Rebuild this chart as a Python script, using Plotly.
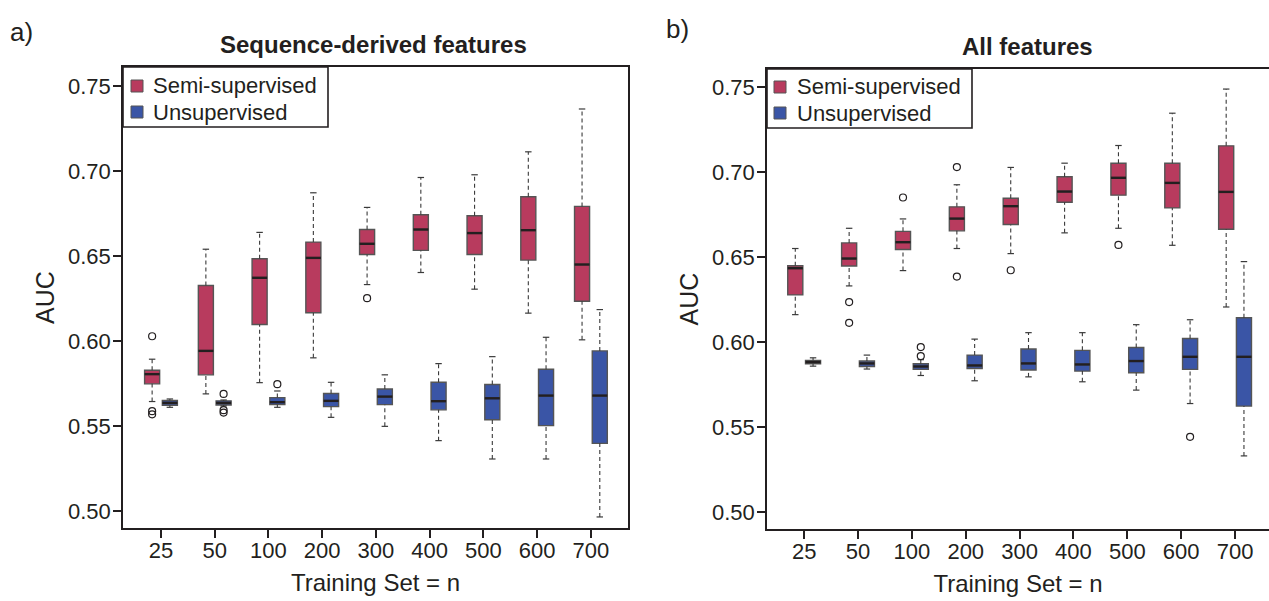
import plotly.graph_objects as go

W, H = 1269, 601

categories = ["25", "50", "100", "200", "300", "400", "500", "600", "700"]
series_names = ["Semi-supervised", "Unsupervised"]

# ---------- Panel a: Sequence-derived features ----------
seq_semi_lo  = [0.5644, 0.5689, 0.5755, 0.5901, 0.6332, 0.6403, 0.6305, 0.6164, 0.6007]
seq_semi_q1  = [0.5748, 0.5801, 0.6097, 0.6166, 0.6509, 0.6533, 0.6509, 0.6476, 0.6234]
seq_semi_med = [0.5805, 0.5942, 0.6372, 0.6489, 0.6572, 0.6656, 0.6635, 0.6652, 0.6450]
seq_semi_q3  = [0.5828, 0.6327, 0.6484, 0.6582, 0.6656, 0.6743, 0.6737, 0.6849, 0.6792]
seq_semi_hi  = [0.5893, 0.6540, 0.6639, 0.6872, 0.6786, 0.6962, 0.6978, 0.7113, 0.7365]
seq_semi_out_cat = ["25", "25", "25", "300"]
seq_semi_out_val = [0.6028, 0.5587, 0.5569, 0.6252]

seq_unsup_lo  = [0.5610, 0.5618, 0.5610, 0.5551, 0.5498, 0.5414, 0.5306, 0.5306, 0.4965]
seq_unsup_q1  = [0.5622, 0.5624, 0.5626, 0.5614, 0.5626, 0.5595, 0.5537, 0.5502, 0.5398]
seq_unsup_med = [0.5636, 0.5636, 0.5640, 0.5648, 0.5673, 0.5646, 0.5663, 0.5679, 0.5679]
seq_unsup_q3  = [0.5650, 0.5648, 0.5667, 0.5691, 0.5718, 0.5757, 0.5744, 0.5834, 0.5942]
seq_unsup_hi  = [0.5659, 0.5653, 0.5706, 0.5757, 0.5801, 0.5867, 0.5908, 0.6022, 0.6185]
seq_unsup_out_cat = ["50", "50", "50", "100"]
seq_unsup_out_val = [0.5689, 0.5593, 0.5579, 0.5746]

# ---------- Panel b: All features ----------
all_semi_lo  = [0.6161, 0.6330, 0.6420, 0.6550, 0.6520, 0.6642, 0.6669, 0.6569, 0.6206]
all_semi_q1  = [0.6277, 0.6447, 0.6544, 0.6654, 0.6691, 0.6822, 0.6864, 0.6789, 0.6663]
all_semi_med = [0.6434, 0.6491, 0.6587, 0.6726, 0.6799, 0.6885, 0.6966, 0.6936, 0.6883]
all_semi_q3  = [0.6449, 0.6583, 0.6651, 0.6795, 0.6846, 0.6972, 0.7052, 0.7052, 0.7154]
all_semi_hi  = [0.6550, 0.6669, 0.6724, 0.6925, 0.7027, 0.7052, 0.7156, 0.7346, 0.7488]
all_semi_out_cat = ["50", "50", "100", "200", "200", "300", "500"]
all_semi_out_val = [0.6235, 0.6113, 0.6850, 0.7029, 0.6385, 0.6422, 0.6571]

all_unsup_lo  = [0.5858, 0.5841, 0.5803, 0.5772, 0.5795, 0.5766, 0.5717, 0.5638, 0.5330]
all_unsup_q1  = [0.5872, 0.5856, 0.5839, 0.5844, 0.5835, 0.5829, 0.5819, 0.5839, 0.5623]
all_unsup_med = [0.5882, 0.5874, 0.5856, 0.5862, 0.5874, 0.5868, 0.5888, 0.5913, 0.5913]
all_unsup_q3  = [0.5892, 0.5888, 0.5872, 0.5923, 0.5959, 0.5951, 0.5968, 0.6021, 0.6143]
all_unsup_hi  = [0.5907, 0.5923, 0.5896, 0.6017, 0.6055, 0.6055, 0.6102, 0.6131, 0.6473]
all_unsup_out_cat = ["100", "100", "600"]
all_unsup_out_val = [0.5970, 0.5917, 0.5442]

y_ticks = [0.50, 0.55, 0.60, 0.65, 0.70, 0.75]

RED = "#B83B5E"
BLUE = "#3A55A6"
INK = "#231F20"
FONT = "Liberation Sans, Arial, Helvetica, sans-serif"

OFFSET = 0.165
BOXW = 0.28
CAP = 0.06

fig = go.Figure()


def add_series(xa, ya, off, lo, q1, med, q3, hi, out_cat, out_val, color, name):
    pos = [i + off for i in range(len(categories))]
    wx, wy = [], []
    for p, a, b, c, d in zip(pos, lo, q1, q3, hi):
        wx += [p, p, None, p, p, None]
        wy += [a, b, None, c, d, None]
    fig.add_trace(go.Scatter(x=wx, y=wy, mode="lines", name=name,
                             line=dict(color="#3a3a3a", width=1.1, dash="4px,3px"),
                             xaxis=xa, yaxis=ya, showlegend=False, hoverinfo="skip"))
    cx, cy = [], []
    for p, a, d in zip(pos, lo, hi):
        cx += [p - CAP, p + CAP, None, p - CAP, p + CAP, None]
        cy += [a, a, None, d, d, None]
    fig.add_trace(go.Scatter(x=cx, y=cy, mode="lines", name=name,
                             line=dict(color="#3a3a3a", width=1.2),
                             xaxis=xa, yaxis=ya, showlegend=False, hoverinfo="skip"))
    fig.add_trace(go.Box(x=pos, q1=q1, median=med, q3=q3, lowerfence=q1, upperfence=q3,
                         name=name, width=BOXW, fillcolor=color,
                         line=dict(color="#555555", width=1.4),
                         whiskerwidth=0, boxpoints=False, xaxis=xa, yaxis=ya,
                         showlegend=False, hoverinfo="skip"))
    mx, my = [], []
    for p, m in zip(pos, med):
        mx += [p - BOXW / 2, p + BOXW / 2, None]
        my += [m, m, None]
    fig.add_trace(go.Scatter(x=mx, y=my, mode="lines", name=name,
                             line=dict(color=INK, width=2.4),
                             xaxis=xa, yaxis=ya, showlegend=False, hoverinfo="skip"))
    ox = [categories.index(c) + off for c in out_cat]
    fig.add_trace(go.Scatter(x=ox, y=out_val, mode="markers", name=name,
                             marker=dict(symbol="circle-open", size=7, color=INK,
                                         line=dict(width=1.2, color=INK)),
                             xaxis=xa, yaxis=ya, showlegend=False, hoverinfo="skip"))


add_series("x", "y", -OFFSET, seq_semi_lo, seq_semi_q1, seq_semi_med, seq_semi_q3, seq_semi_hi,
           seq_semi_out_cat, seq_semi_out_val, RED, series_names[0])
add_series("x", "y", OFFSET, seq_unsup_lo, seq_unsup_q1, seq_unsup_med, seq_unsup_q3, seq_unsup_hi,
           seq_unsup_out_cat, seq_unsup_out_val, BLUE, series_names[1])
add_series("x2", "y2", -OFFSET, all_semi_lo, all_semi_q1, all_semi_med, all_semi_q3, all_semi_hi,
           all_semi_out_cat, all_semi_out_val, RED, series_names[0])
add_series("x2", "y2", OFFSET, all_unsup_lo, all_unsup_q1, all_unsup_med, all_unsup_q3, all_unsup_hi,
           all_unsup_out_cat, all_unsup_out_val, BLUE, series_names[1])

xa_dom = [123 / W, 628 / W]
xb_dom = [767 / W, 1.0]
ya_dom = [1 - 528 / H, 1 - 67 / H]
yb_dom = [1 - 529 / H, 1 - 69 / H]

axis_common = dict(showline=True, linewidth=1.6, linecolor=INK, ticks="outside", ticklen=8,
                   tickwidth=1.5, tickcolor=INK, showgrid=False, zeroline=False,
                   tickfont=dict(size=22, color=INK, family=FONT))

xtitle = dict(text="Training Set = n", font=dict(size=24), standoff=12)
ytitle = dict(text="AUC", font=dict(size=25), standoff=6)

# ----- legends (one per panel), drawn as a framed key -----
shapes = []
annotations = []


def px_x(v):
    return v / W


def px_y(v):
    return 1 - v / H


def add_key(left, top, right, bottom, sq_left, row_centers, text_left):
    shapes.append(dict(type="rect", xref="paper", yref="paper",
                       x0=px_x(left), x1=px_x(right), y0=px_y(bottom), y1=px_y(top),
                       line=dict(color=INK, width=1.6), fillcolor="white", layer="above"))
    for name, color, cy in zip(series_names, [RED, BLUE], row_centers):
        shapes.append(dict(type="rect", xref="paper", yref="paper",
                           x0=px_x(sq_left), x1=px_x(sq_left + 12),
                           y0=px_y(cy + 6), y1=px_y(cy - 6),
                           line=dict(color="#555555", width=1), fillcolor=color, layer="above"))
        annotations.append(dict(text=name, x=px_x(text_left), y=px_y(cy),
                                xref="paper", yref="paper", xanchor="left", yanchor="middle",
                                showarrow=False, font=dict(size=22, color=INK)))


add_key(123, 67, 328, 127, 131, [86, 112], 151)
add_key(767, 69, 972, 128, 774, [87, 113], 795)

annotations += [
    dict(text="a)", x=8 / W, y=1 - 32 / H, xref="paper", yref="paper",
         xanchor="left", yanchor="middle", showarrow=False, font=dict(size=26, color=INK)),
    dict(text="b)", x=664 / W, y=1 - 29 / H, xref="paper", yref="paper",
         xanchor="left", yanchor="middle", showarrow=False, font=dict(size=26, color=INK)),
    dict(text="<b>Sequence-derived features</b>", x=373 / W, y=1 - 44 / H,
         xref="paper", yref="paper", xanchor="center", yanchor="middle",
         showarrow=False, font=dict(size=24, color=INK)),
    dict(text="<b>All features</b>", x=1027 / W, y=1 - 46 / H,
         xref="paper", yref="paper", xanchor="center", yanchor="middle",
         showarrow=False, font=dict(size=24, color=INK)),
]

fig.update_layout(
    width=W, height=H, margin=dict(l=0, r=0, t=0, b=0),
    paper_bgcolor="white", plot_bgcolor="white",
    font=dict(family=FONT, color=INK),
    showlegend=False,
    xaxis=dict(domain=xa_dom, range=[-0.707, 8.69], anchor="y", mirror=True,
               tickvals=list(range(len(categories))), ticktext=categories,
               ticklabelstandoff=-6, title=xtitle, **axis_common),
    yaxis=dict(domain=ya_dom, range=[0.49, 0.7612], anchor="x", mirror=True,
               tickvals=y_ticks, tickformat=".2f", ticklabelstandoff=-2,
               title=ytitle, **axis_common),
    xaxis2=dict(domain=xb_dom, range=[-0.69, 8.63], anchor="y2", mirror=True,
                tickvals=list(range(len(categories))), ticktext=categories,
                ticklabelstandoff=-6, title=xtitle, **axis_common),
    yaxis2=dict(domain=yb_dom, range=[0.49, 0.7606], anchor="x2", mirror=False,
                tickvals=y_ticks, tickformat=".2f", ticklabelstandoff=-2,
                title=ytitle, **axis_common),
    shapes=shapes,
    annotations=annotations,
)

fig.write_html("out.html")
